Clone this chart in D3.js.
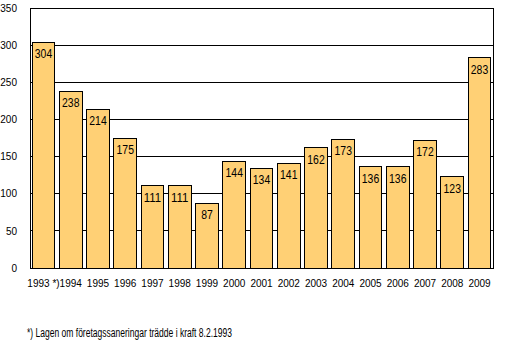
<!DOCTYPE html>
<meta charset="utf-8">
<style>
    body { margin: 0; background: #fff; }
    svg text { font-family: "Liberation Sans", Arial, sans-serif; fill: #000; }
    .axis text { font-size: 10px; }
    .lbl { font-size: 12.5px; }
</style>
<body>
<svg id="chart"></svg>
<script src="https://cdn.jsdelivr.net/npm/d3@7"></script>
<script>
    // data
    var years = ["1993 *)", "1994", "1995", "1996", "1997", "1998", "1999", "2000", "2001",
        "2002", "2003", "2004", "2005", "2006", "2007", "2008", "2009"];
    var values = [304, 238, 214, 175, 111, 111, 87, 144, 134, 141, 162, 173, 136, 136, 172, 123, 283];
    var yTicks = [0, 50, 100, 150, 200, 250, 300, 350];
    var footnote = "*) Lagen om företagssaneringar trädde i kraft 8.2.1993";

    var W = 519, H = 354;
    var margin = { top: 8, right: 26, bottom: 86, left: 30 };
    var width = W - margin.left - margin.right,
        height = H - margin.top - margin.bottom;

    var svg = d3.select("#chart").attr("width", W).attr("height", H);
    var g = svg.append("g").attr("transform", "translate(" + margin.left + "," + margin.top + ")");

    var x = d3.scaleBand().domain(years).range([0, width]).paddingInner(0.17).paddingOuter(0.08);
    var y = d3.scaleLinear().domain([0, 350]).range([height, 0]);

    // grid lines
    g.selectAll(".grid").data(yTicks).enter().append("line")
        .attr("x1", 0).attr("x2", width)
        .attr("y1", function (d) { return y(d); }).attr("y2", function (d) { return y(d); })
        .attr("stroke", "#000").attr("shape-rendering", "crispEdges");

    // frame
    g.append("rect").attr("width", width).attr("height", height)
        .attr("fill", "none").attr("stroke", "#000").attr("shape-rendering", "crispEdges");

    // y axis labels
    var ya = g.append("g").attr("class", "axis")
        .call(d3.axisLeft(y).tickValues(yTicks).tickSize(0).tickPadding(13));
    ya.select(".domain").remove();

    // x axis labels
    var xa = g.append("g").attr("class", "axis")
        .attr("transform", "translate(0," + height + ")")
        .call(d3.axisBottom(x).tickSize(0).tickPadding(12));
    xa.select(".domain").remove();

    // bars
    g.selectAll(".bar").data(values).enter().append("rect")
        .attr("x", function (d, i) { return x(years[i]); })
        .attr("y", function (d) { return y(d); })
        .attr("width", x.bandwidth())
        .attr("height", function (d) { return height - y(d); })
        .attr("fill", "#ffd075").attr("stroke", "#000")
        .attr("shape-rendering", "crispEdges");

    // value labels (narrow, like the original)
    g.selectAll(".lbl").data(values).enter().append("text")
        .attr("class", "lbl")
        .attr("x", function (d, i) { return x(years[i]) + x.bandwidth() / 2; })
        .attr("y", function (d) { return y(d) + 16; })
        .attr("text-anchor", "middle")
        .attr("textLength", function (d) { return String(d).length * 5.8; })
        .attr("lengthAdjust", "spacingAndGlyphs")
        .text(function (d) { return d; });

    svg.append("text").attr("x", 27).attr("y", 337)
        .style("font-size", "12px")
        .attr("textLength", 205).attr("lengthAdjust", "spacingAndGlyphs")
        .text(footnote);
</script>
</body>
